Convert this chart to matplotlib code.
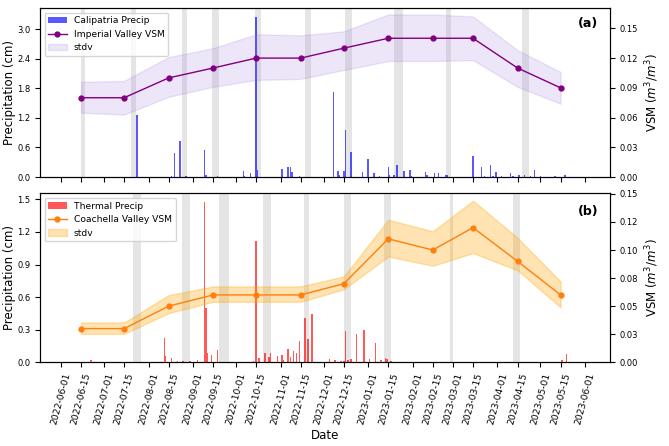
import pandas as pd
import matplotlib
matplotlib.use('Agg')
import matplotlib.pyplot as plt
import matplotlib.dates as mdates

# monthly VSM dates (both panels)
vsm_dates = ['2022-06-15', '2022-07-15', '2022-08-15', '2022-09-15', '2022-10-15', '2022-11-15',
             '2022-12-15', '2023-01-15', '2023-02-15', '2023-03-15', '2023-04-15', '2023-05-15']

# x tick dates
tick_dates = ['2022-06-01', '2022-06-15', '2022-07-01', '2022-07-15', '2022-08-01', '2022-08-15',
              '2022-09-01', '2022-09-15', '2022-10-01', '2022-10-15', '2022-11-01', '2022-11-15',
              '2022-12-01', '2022-12-15', '2023-01-01', '2023-01-15', '2023-02-01', '2023-02-15',
              '2023-03-01', '2023-03-15', '2023-04-01', '2023-04-15', '2023-05-01', '2023-05-15',
              '2023-06-01']

# (a) Imperial Valley
iv_vsm = [0.08, 0.08, 0.10, 0.11, 0.12, 0.12, 0.13, 0.14, 0.14, 0.14, 0.11, 0.09]
iv_upper = [0.096, 0.097, 0.121, 0.130, 0.144, 0.143, 0.147, 0.164, 0.164, 0.162, 0.128, 0.106]
iv_lower = [0.065, 0.063, 0.081, 0.091, 0.098, 0.099, 0.108, 0.117, 0.117, 0.118, 0.091, 0.074]

cal_dates = ['2022-07-23', '2022-07-24', '2022-08-17', '2022-08-19', '2022-08-23', '2022-08-27',
             '2022-09-09', '2022-09-10', '2022-09-18', '2022-09-21', '2022-10-06', '2022-10-07',
             '2022-10-11', '2022-10-15', '2022-10-16', '2022-11-02', '2022-11-06', '2022-11-08',
             '2022-11-09', '2022-11-14', '2022-12-08', '2022-12-11', '2022-12-12', '2022-12-15',
             '2022-12-16', '2022-12-20', '2022-12-28', '2023-01-01', '2023-01-05', '2023-01-09',
             '2023-01-15', '2023-01-16', '2023-01-19', '2023-01-21', '2023-01-26', '2023-01-30',
             '2023-01-31', '2023-02-04', '2023-02-10', '2023-02-11', '2023-02-16', '2023-02-19',
             '2023-02-24', '2023-02-25', '2023-03-15', '2023-03-21', '2023-03-23', '2023-03-27',
             '2023-03-29', '2023-03-31', '2023-04-04', '2023-04-10', '2023-04-12', '2023-04-16',
             '2023-04-20', '2023-04-24', '2023-04-27', '2023-05-01', '2023-05-11', '2023-05-18']
cal_precip = [0.01, 1.25, 0.02, 0.49, 0.74, 0.02,
              0.54, 0.05, 0.02, 0.01, 0.13, 0.02,
              0.09, 3.25, 0.14, 0.17, 0.20, 0.20,
              0.11, 0.03, 1.73, 0.12, 0.05, 0.13,
              0.95, 0.50, 0.10, 0.36, 0.075, 0.02,
              0.21, 0.05, 0.05, 0.24, 0.12, 0.14,
              0.03, 0.01, 0.11, 0.05, 0.08, 0.08,
              0.04, 0.05, 0.43, 0.20, 0.03, 0.24,
              0.03, 0.11, 0.02, 0.08, 0.03, 0.04,
              0.04, 0.03, 0.135, 0.02, 0.02, 0.04]

iv_span_start = ['2022-06-15', '2022-07-20', '2022-08-24', '2022-09-14', '2022-10-14',
                 '2022-11-18', '2022-12-16', '2023-01-19', '2023-02-24', '2023-04-18']
iv_span_end = ['2022-06-18', '2022-07-23', '2022-08-28', '2022-09-19', '2022-10-18',
               '2022-11-22', '2022-12-21', '2023-01-25', '2023-02-28', '2023-04-23']

# (b) Coachella Valley
cv_vsm = [0.03, 0.03, 0.05, 0.06, 0.06, 0.06, 0.07, 0.11, 0.10, 0.12, 0.09, 0.06]
cv_upper = [0.0354, 0.0354, 0.0598, 0.0676, 0.0676, 0.0676, 0.0765, 0.127, 0.1167, 0.144, 0.111, 0.072]
cv_lower = [0.0253, 0.0253, 0.0438, 0.0539, 0.0539, 0.0539, 0.065, 0.0943, 0.086, 0.0973, 0.082, 0.049]

th_dates = ['2022-06-22', '2022-08-12', '2022-08-13', '2022-08-17', '2022-08-21', '2022-08-25',
            '2022-08-30', '2022-09-04', '2022-09-09', '2022-09-10', '2022-09-11', '2022-09-14',
            '2022-09-18', '2022-10-13', '2022-10-15', '2022-10-17', '2022-10-21', '2022-10-24',
            '2022-10-25', '2022-10-30', '2022-11-02', '2022-11-03', '2022-11-06', '2022-11-08',
            '2022-11-10', '2022-11-12', '2022-11-14', '2022-11-18', '2022-11-20', '2022-11-23',
            '2022-12-05', '2022-12-09', '2022-12-13', '2022-12-15', '2022-12-16', '2022-12-18',
            '2022-12-20', '2022-12-24', '2022-12-29', '2023-01-02', '2023-01-06', '2023-01-10',
            '2023-01-13', '2023-01-14', '2023-01-17', '2023-05-16', '2023-05-19']
th_precip = [0.02, 0.22, 0.06, 0.04, 0.01, 0.01,
             0.01, 0.02, 1.48, 0.50, 0.09, 0.07,
             0.11, 0.01, 1.12, 0.04, 0.09, 0.05,
             0.09, 0.06, 0.07, 0.02, 0.12, 0.05,
             0.10, 0.09, 0.20, 0.41, 0.21, 0.44,
             0.03, 0.02, 0.01, 0.01, 0.29, 0.02,
             0.03, 0.26, 0.30, 0.03, 0.18, 0.02,
             0.04, 0.03, 0.01, 0.02, 0.074]

cv_span_start = ['2022-07-21', '2022-08-24', '2022-09-19', '2022-10-20', '2022-11-17',
                 '2022-12-15', '2023-01-12', '2023-02-27', '2023-04-12']
cv_span_end = ['2022-07-27', '2022-08-30', '2022-09-26', '2022-10-25', '2022-11-21',
               '2022-12-20', '2023-01-17', '2023-03-01', '2023-04-17']

fig = plt.figure(figsize=(6.69, 4.46), dpi=100)
ax1 = fig.add_axes([0.0598, 0.603, 0.852, 0.379])
ax3 = fig.add_axes([0.0598, 0.1877, 0.852, 0.379], sharex=ax1)


def panel(ax, pdates, precip, pcolor, plabel, vsm, lo, hi, lcolor, fcolor, falpha, llabel,
          s0, s1, tag, ylim_l, ylim_r, tag_y):
    for a, b in zip(s0, s1):
        ax.axvspan(pd.Timestamp(a), pd.Timestamp(b), color='gray', alpha=0.2, lw=0)
    bars = ax.bar(pd.to_datetime(pdates), precip, width=1, color=pcolor, alpha=0.65, label=plabel)
    ax.set_ylim(*ylim_l)
    ax.set_ylabel('Precipitation (cm)', fontsize=8.5, labelpad=1)
    ax.tick_params(labelsize=6)
    ax2 = ax.twinx()
    d = pd.to_datetime(vsm_dates)
    line, = ax2.plot(d, vsm, '-o', color=lcolor, lw=1, ms=3.5, label=llabel)
    fill = ax2.fill_between(d, lo, hi, color=fcolor, alpha=falpha, label='stdv')
    ax2.set_ylim(*ylim_r)
    ax2.set_ylabel('VSM ($m^3/m^3$)', fontsize=8.5)
    ax2.tick_params(labelsize=6)
    ax2.text(0.98, tag_y, tag, transform=ax2.transAxes, ha='right', va='center',
             fontsize=9, fontweight='bold')
    ax2.legend([bars, line, fill], [plabel, llabel, 'stdv'], loc='upper left', fontsize=6.6)
    return ax2


ax2 = panel(ax1, cal_dates, cal_precip, 'blue', 'Calipatria Precip', iv_vsm, iv_lower, iv_upper,
            'purple', 'mediumpurple', 0.17, 'Imperial Valley VSM', iv_span_start, iv_span_end,
            '(a)', (0, 3.43), (0, 0.1705), 0.91)
ax1.set_yticks([0, 0.6, 1.2, 1.8, 2.4, 3.0])
ax2.set_yticks([0, 0.03, 0.06, 0.09, 0.12, 0.15])
ax2.set_yticklabels(['0.00', '0.03', '0.06', '0.09', '0.12', '0.15'])

ax4 = panel(ax3, th_dates, th_precip, 'red', 'Thermal Precip', cv_vsm, cv_lower, cv_upper,
            '#ff7f0e', 'orange', 0.3, 'Coachella Valley VSM', cv_span_start, cv_span_end,
            '(b)', (0, 1.556), (0, 0.1506), 0.895)
ax3.set_yticks([0, 0.3, 0.6, 0.9, 1.2, 1.5])
ax4.set_yticks([0, 0.025, 0.05, 0.075, 0.1, 0.125, 0.15])
ax4.set_yticklabels(['0.00', '0.03', '0.05', '0.08', '0.10', '0.12', '0.15'])

ax1.set_xlim(pd.Timestamp('2022-05-17 10:00'), pd.Timestamp('2023-06-18 10:00'))
ax1.set_xticks(pd.to_datetime(tick_dates))
ax1.xaxis.set_major_formatter(mdates.DateFormatter('%Y-%m-%d'))
plt.setp(ax1.get_xticklabels(), visible=False)
for lab in ax3.get_xticklabels():
    lab.set_rotation(75)
    lab.set_fontsize(6.6)
ax3.set_xlabel('Date', fontsize=8.5, labelpad=2)

fig.savefig('out.png', dpi=100)
